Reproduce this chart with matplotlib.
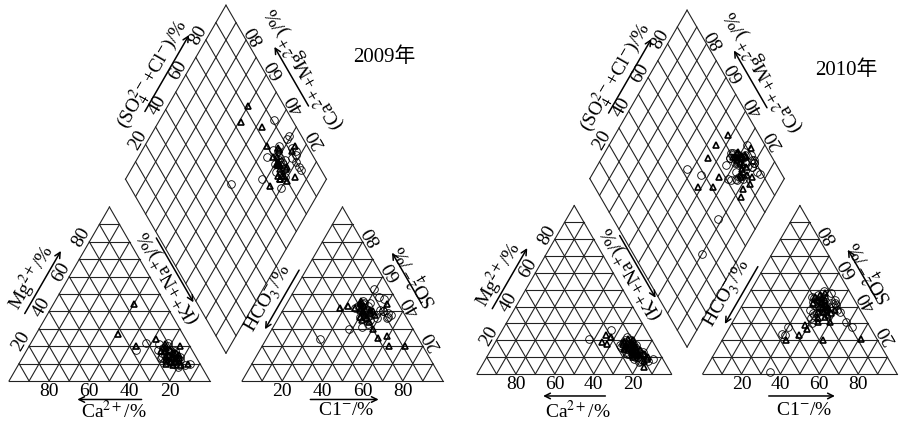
import numpy as np
import matplotlib.pyplot as plt

plt.rcParams['font.family'] = ['Liberation Serif', 'Noto Sans CJK SC']
plt.rcParams['mathtext.fontset'] = 'stix'

# ---------------- 2009 ----------------
# 圆圈样品 (阳离子 Ca, Mg; 阴离子 Cl, SO4, 单位 %)
ca09_o = [28, 21, 16, 14, 12, 10, 17, 13, 11, 15, 9, 8, 14, 18, 12, 10, 13, 16, 11, 5, 15, 12, 9, 14, 11, 17, 13, 8, 10, 12]
mg09_o = [18, 22, 16, 14, 12, 16, 18, 10, 20, 15, 12, 9, 19, 13, 17, 13, 14, 11, 9, 10, 21, 15, 17, 12, 18, 14, 11, 14, 22, 8]
cl09_o = [27, 54, 38, 42, 40, 45, 38, 55, 47, 36, 44, 50, 41, 39, 43, 48, 37, 46, 50, 54, 40, 35, 44, 49, 42, 38, 46, 53, 41, 44]
so409_o = [24, 37, 30, 40, 42, 38, 44, 38, 47, 43, 36, 40, 45, 53, 39, 41, 46, 35, 40, 36, 37, 42, 48, 36, 41, 45, 33, 39, 43, 31]
# 三角形样品
ca09_t = [16, 32, 27, 15, 5, 6, 12, 14, 10, 16, 11, 13, 9, 17, 12, 14, 10, 8, 15, 11, 13, 9, 12, 16, 10, 14]
mg09_t = [44, 27, 20, 24, 20, 10, 14, 11, 16, 12, 18, 15, 13, 10, 21, 17, 9, 15, 14, 12, 19, 16, 11, 17, 13, 9]
cl09_t = [36, 31, 63, 55, 71, 59, 50, 50, 28, 40, 42, 38, 44, 36, 41, 39, 46, 43, 37, 40, 45, 42, 38, 47, 35, 44]
so409_t = [46, 43, 20, 25, 20, 26, 30, 44, 42, 40, 38, 42, 36, 45, 39, 43, 34, 41, 44, 37, 40, 35, 41, 38, 42, 39]

# ---------------- 2010 ----------------
ca10_o = [32, 12, 12, 15, 10, 17, 13, 11, 16, 9, 14, 12, 18, 11, 13, 8, 15, 12, 10, 14, 17, 11, 13, 9, 16, 12, 14, 10, 15, 8, 13, 11, 18, 12, 14, 5, 16, 18]
mg10_o = [21, 8, 10, 14, 10, 12, 16, 18, 15, 11, 20, 13, 17, 9, 12, 8, 19, 22, 14, 10, 13, 16, 7, 12, 18, 15, 11, 17, 9, 13, 14, 20, 16, 10, 15, 9, 12, 26]
cl10_o = [29, 34, 31, 63, 58, 40, 38, 43, 36, 45, 41, 39, 35, 47, 42, 50, 37, 44, 40, 46, 33, 39, 48, 42, 36, 41, 45, 38, 43, 37, 40, 44, 35, 52, 41, 47, 39, 30]
so410_o = [24, 1, 23, 28, 31, 40, 44, 38, 47, 42, 39, 36, 45, 40, 43, 38, 41, 37, 35, 44, 46, 33, 41, 48, 38, 36, 40, 49, 34, 42, 45, 39, 43, 37, 30, 42, 46, 28]
ca10_t = [24, 22, 10, 20, 16, 15, 12, 7, 8, 26, 13, 11, 15, 12, 10, 14, 8, 16, 13, 11, 15, 9, 12, 14, 17, 11, 13, 10, 15, 12]
mg10_t = [18, 23, 16, 22, 18, 19, 4, 10, 12, 19, 15, 13, 17, 11, 20, 14, 9, 16, 12, 18, 10, 14, 21, 13, 15, 12, 17, 8, 11, 16]
cl10_t = [45, 44, 71, 33, 38, 40, 50, 52, 42, 38, 41, 36, 44, 39, 47, 43, 37, 45, 40, 48, 35, 42, 46, 39, 44, 41, 37, 43, 49, 40]
so410_t = [39, 31, 21, 20, 23, 27, 31, 20, 40, 29, 44, 42, 37, 45, 35, 41, 47, 38, 43, 36, 46, 39, 34, 48, 40, 37, 44, 33, 38, 42]

ticks = [20, 40, 60, 80]

H = np.sqrt(3) / 2
GAP = 16
AX0 = 100 + GAP          # 阴离子三角形左下角
DB = (100 + GAP / 2, GAP * H)   # 菱形下顶点


def cation_xy(ca, mg):
    ca = np.asarray(ca, float)
    mg = np.asarray(mg, float)
    return 100 - ca - mg / 2, mg * H


def anion_xy(cl, so4):
    cl = np.asarray(cl, float)
    so4 = np.asarray(so4, float)
    return AX0 + cl + so4 / 2, so4 * H


def diamond_xy(cm, sc):
    cm = np.asarray(cm, float)
    sc = np.asarray(sc, float)
    return DB[0] + (sc - cm) / 2, DB[1] + (cm + sc) * H


LC = '#222222'
LW = 0.8


def line(ax, p, q):
    ax.plot([p[0], q[0]], [p[1], q[1]], color=LC, lw=LW, clip_on=False, zorder=1)


def tri_grid(ax, x0):
    for v in range(0, 101, 10):
        line(ax, (x0 + v / 2, v * H), (x0 + 100 - v / 2, v * H))
        line(ax, (x0 + v, 0), (x0 + v + (100 - v) / 2, (100 - v) * H))
        line(ax, (x0 + 100 - v, 0), (x0 + (100 - v) / 2, (100 - v) * H))


def diamond_grid(ax):
    for v in range(0, 101, 10):
        line(ax, diamond_xy(v, 0), diamond_xy(v, 100))
        line(ax, diamond_xy(0, v), diamond_xy(100, v))


# 斜边: 起点, 方向, 外法线, 文字角度
def edge(start, up_right):
    if up_right:
        return np.array(start, float), np.array([0.5, H]), np.array([-H, 0.5]), 60
    return np.array(start, float), np.array([-0.5, H]), np.array([H, 0.5]), 120


def edge_text(ax, e, t, d, s, size=14):
    p0, u, n, rot = e
    p = p0 + t * u + d * n
    ax.text(p[0], p[1], s, rotation=rot, rotation_mode='anchor',
            ha='center', va='center', fontsize=size)


def arrow(ax, a, b):
    ax.annotate('', xy=b, xytext=a,
                arrowprops=dict(arrowstyle='->', lw=1.1, color='k',
                                shrinkA=0, shrinkB=0, mutation_scale=10))


def edge_arrow(ax, e, t0, t1, d):
    p0, u, n, rot = e
    arrow(ax, p0 + t0 * u + d * n, p0 + t1 * u + d * n)


def draw_piper(ax, groups, year, year_xy, low):
    tri_grid(ax, 0)
    tri_grid(ax, AX0)
    diamond_grid(ax)

    ny, ay, ty = low
    for v in ticks:
        ax.text(100 - v, ny, str(v), ha='center', va='center', fontsize=14)
        ax.text(AX0 + v, ny, str(v), ha='center', va='center', fontsize=14)
    arrow(ax, (66, ay), (34, ay))
    ax.text(52, ty, 'Ca$^{2+}$/%', ha='center', va='center', fontsize=14)
    arrow(ax, (AX0 + 34, ay), (AX0 + 68, ay))
    ax.text(AX0 + 52, ty, 'C1$^{-}$/%', ha='center', va='center', fontsize=14)

    e_mg = edge((0, 0), True)
    e_na = edge((100, 0), False)
    e_hco = edge((AX0, 0), True)
    e_so = edge((AX0 + 100, 0), False)
    e_sc = edge(diamond_xy(100, 0), True)
    e_cm = edge(diamond_xy(0, 100), False)

    for v in ticks:
        edge_text(ax, e_mg, v, 4.5, str(v))
        edge_text(ax, e_so, v, 5.5, str(v))
        edge_text(ax, e_sc, v, 4.5, str(v))
        edge_text(ax, e_cm, v, 5.5, str(v))

    edge_arrow(ax, e_mg, 33, 69, 10)
    edge_text(ax, e_mg, 50, 16, 'Mg$^{2+}$/%')
    edge_arrow(ax, e_na, 75, 38, 12.5)
    edge_text(ax, e_na, 55, 8, '(K$^{+}$+Na$^{+}$)/%')
    edge_arrow(ax, e_hco, 62, 28, 3)
    edge_text(ax, e_hco, 42, 9, 'HCO$_3^{-}$/%')
    edge_arrow(ax, e_so, 39, 68, 10)
    edge_text(ax, e_so, 52, 14.5, 'SO$_4^{2-}$/%')
    edge_arrow(ax, e_sc, 34, 78, 8.5)
    edge_text(ax, e_sc, 52, 14.5, '(SO$_4^{2-}$+Cl$^{-}$)/%')
    edge_arrow(ax, e_cm, 36, 70, 10.5)
    edge_text(ax, e_cm, 53, 18, '(Ca$^{2+}$+Mg$^{2+}$)/%')

    for ca, mg, cl, so4, style in groups:
        cm = np.add(ca, mg)
        sc = np.add(cl, so4)
        for x, y in (cation_xy(ca, mg), anion_xy(cl, so4), diamond_xy(cm, sc)):
            ax.plot(x, y, ls='none', clip_on=False, zorder=3, **style)

    ax.text(year_xy[0], year_xy[1], year, ha='center', va='center', fontsize=15)


circ = dict(marker='o', ms=5.5, mfc='none', mec='k', mew=0.6)
trig = dict(marker='^', ms=4.5, mfc='none', mec='k', mew=1.2)

fig = plt.figure(figsize=(9.03, 4.26), dpi=100)
W, Hp = 903, 426

# 左图: 比例 s1 像素/单位, 原点 (9, 381)
s1, ox1, oy1 = 2.009, 9, 381
ax1 = fig.add_axes([0, 0, 451 / W, 1])
ax1.set_xlim(-ox1 / s1, (451 - ox1) / s1)
ax1.set_ylim((oy1 - Hp) / s1, oy1 / s1)
ax1.axis('off')
draw_piper(ax1,
           [(ca09_o, mg09_o, cl09_o, so409_o, circ),
            (ca09_t, mg09_t, cl09_t, so409_t, trig)],
           '2009年', (187, 161), (-5.3, -9.2, -14.8))

# 右图
s2, ox2, oy2 = 1.945, 477, 374
ax2 = fig.add_axes([451 / W, 0, 452 / W, 1])
ax2.set_xlim((451 - ox2) / s2, (903 - ox2) / s2)
ax2.set_ylim((oy2 - Hp) / s2, oy2 / s2)
ax2.axis('off')
draw_piper(ax2,
           [(ca10_o, mg10_o, cl10_o, so410_o, circ),
            (ca10_t, mg10_t, cl10_t, so410_t, trig)],
           '2010年', (190, 156), (-5.6, -11.3, -18.8))

fig.savefig('out.png', dpi=100)
